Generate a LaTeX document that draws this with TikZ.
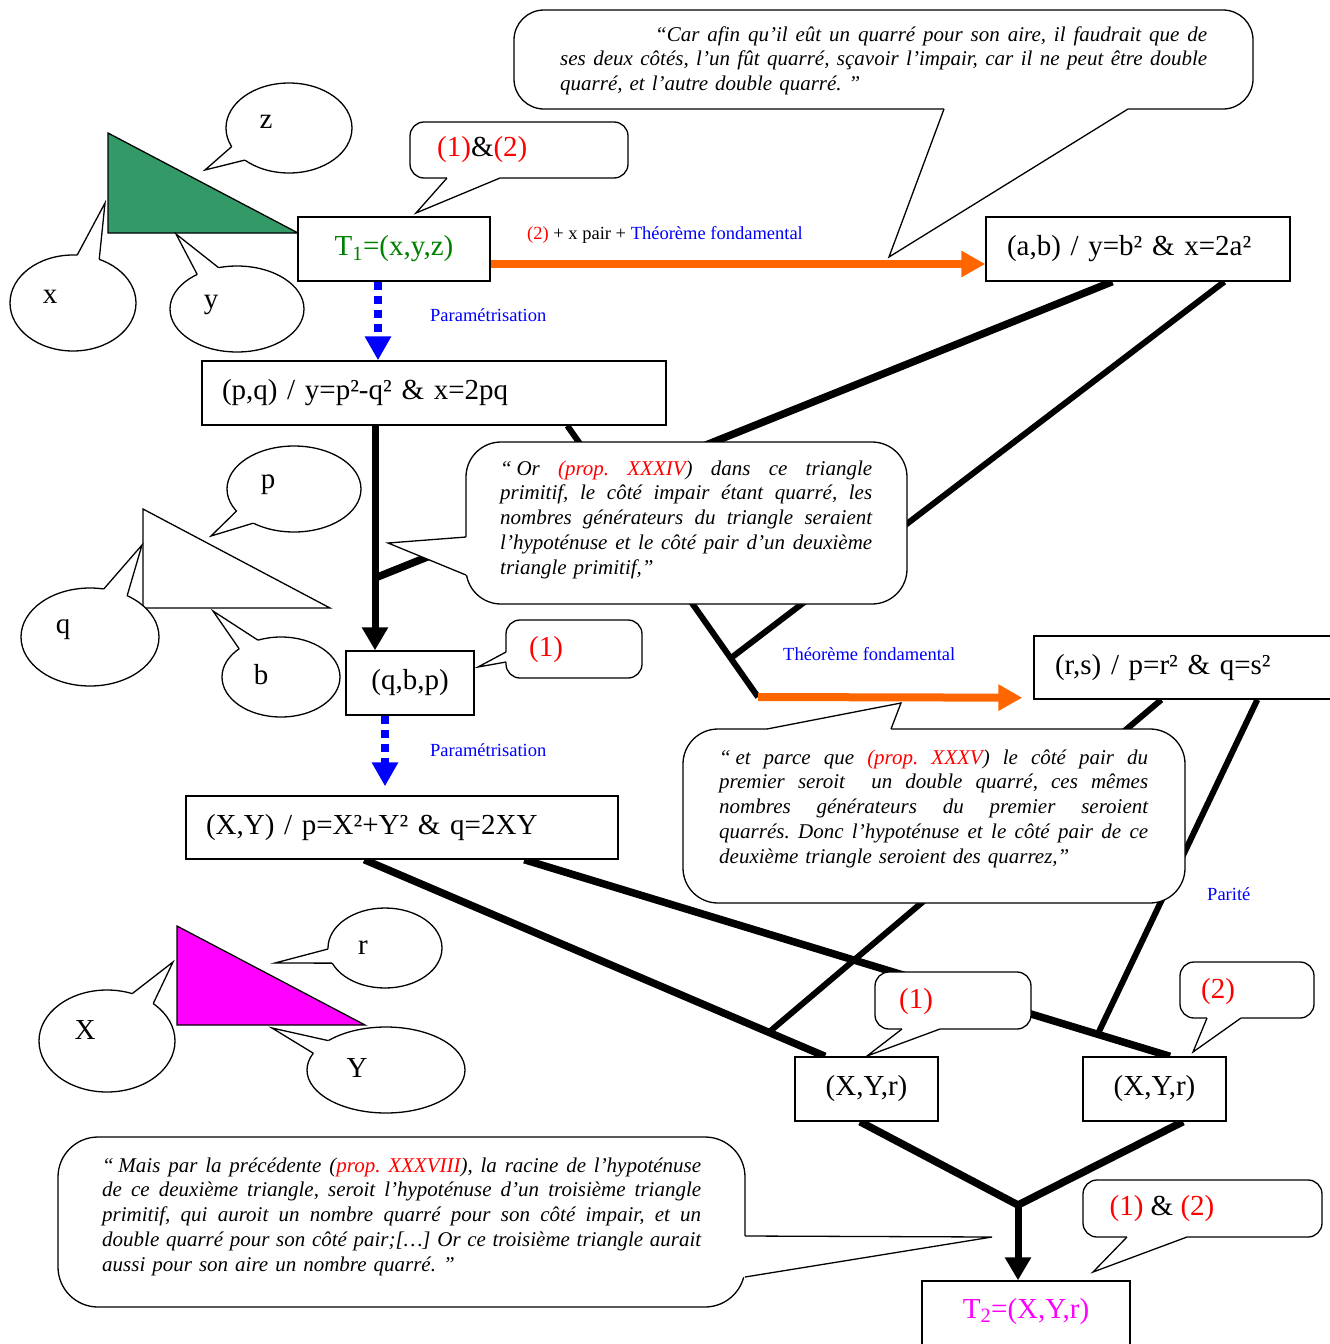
\documentclass[tikz,border=0pt]{standalone}
\usepackage{fontspec}
\setmainfont{Liberation Serif}
\usetikzlibrary{arrows.meta,shapes.geometric,calc}
\definecolor{tgreen}{RGB}{0,128,0}
\definecolor{trigreen}{RGB}{51,153,102}
\definecolor{orng}{RGB}{255,102,0}
\definecolor{mag}{RGB}{255,0,255}
\definecolor{rd}{RGB}{255,0,0}
\definecolor{bl}{RGB}{0,0,255}
\pgfdeclarelayer{bg}
\pgfsetlayers{bg,main}
\newcommand\fbig{\fontsize{29}{33}\selectfont}
\newcommand\flab{\fontsize{18.5}{22}\selectfont\frenchspacing}
\newcommand\fqt{\fontsize{21}{24.75}\selectfont\itshape\frenchspacing}
\newcommand\jline[2]{\leavevmode\hbox to #1{\spaceskip=0.25em plus 1fil minus 0.05em\relax #2}}
\newcommand\oq{“\hspace{0.22em}}
\newcommand\rptr[4]{\fill[white] ($#1+#4$) -- #1 -- #2 -- #3 -- ($#3+#4$) -- cycle;
  \draw[cline] #1 -- #2 -- #3;}
\newcommand\eptr[4]{\fill[white] (#1.center) -- (#1.#2) -- #4 -- (#1.#3) -- cycle;
  \draw[cline] (#1.#2) -- #4 -- (#1.#3);}
\begin{document}
\begin{tikzpicture}[x=1pt,y=-1pt,
  box/.style={draw,line width=1.4pt,fill=white,inner sep=0pt,minimum height=64pt,font=\fbig},
  lbox/.style={box,align=left,inner xsep=20pt,text width=#1},
  cbox/.style={box,minimum width=#1},
  bub/.style={draw,line width=1.3pt,fill=white,rounded corners=#1,inner sep=0pt,outer sep=0pt},
  ell/.style={draw,line width=1.3pt,fill=white,ellipse,inner sep=0pt,outer sep=0pt},
  cline/.style={line width=1.3pt,line join=miter},
  thk/.style={line width=7.5pt},
  thn/.style={line width=6pt},
  blk/.style={line width=7pt,-{Triangle[length=23pt,width=25pt]}},
  oarr/.style={line width=8pt,orng,-{Triangle[length=24pt,width=25pt]}},
  barr/.style={line width=8pt,bl,dash pattern=on 8pt off 6pt,-{Triangle[length=24pt,width=25pt]}},
  qt/.style={font=\fqt,inner sep=0pt,text width=#1,align=left,anchor=base west},
  lbl/.style={font=\flab,inner sep=0pt,anchor=west},
  elab/.style={font=\fbig,inner sep=0pt},
]
\useasboundingbox (0,0) rectangle (1330,1344);

% ---------- triangles ----------
\fill[trigreen,draw=black,line width=1.3pt] (108,133) -- (108,233) -- (298,233) -- cycle;
\fill[white,draw=black,line width=1.3pt] (143,509) -- (143,608) -- (330,608) -- cycle;
\fill[mag,draw=black,line width=1.3pt] (177,926) -- (177,1025) -- (365,1025) -- cycle;

% ---------- ellipse callouts ----------
\node[ell,minimum width=126pt,minimum height=90pt] (ez) at (289,128) {};
\eptr{ez}{198}{216}{(205,170)}
\node[ell,minimum width=126pt,minimum height=96pt] (ex) at (73,303) {};
\eptr{ex}{85}{59}{(105,203)}
\node[ell,minimum width=134pt,minimum height=86pt] (ey) at (237,309) {};
\eptr{ey}{139}{114}{(176,234)}
\node[ell,minimum width=134pt,minimum height=86pt] (ep) at (294,489) {};
\eptr{ep}{201}{220}{(211,536)}
\node[ell,minimum width=138pt,minimum height=98pt] (eq) at (90,637) {};
\eptr{eq}{74}{48}{(142,545)}
\node[ell,minimum width=118pt,minimum height=80pt] (eb) at (281,677) {};
\eptr{eb}{146}{122}{(213,611)}
\node[ell,minimum width=114pt,minimum height=80pt] (er) at (385,948) {};
\eptr{er}{181}{196}{(275,963)}
\node[ell,minimum width=136pt,minimum height=102pt] (eX) at (107,1041) {};
\eptr{eX}{62}{39}{(173,962)}
\node[ell,minimum width=158pt,minimum height=86pt] (eY) at (386,1070) {};
\eptr{eY}{153}{167}{(272,1028)}

\node[elab] (tz) at (266,122) {z};
\node[elab] (tx) at (50,297) {x};
\node[elab] (ty) at (211,305) {y};
\node[elab] (tp) at (268,485) {p};
\node[elab] (tq) at (63,630) {q};
\node[elab] (tb) at (261,675) {b};
\node[elab] (tr) at (363,948) {r};
\node[elab] (tX) at (85,1030) {X};
\node[elab] (tY) at (357,1068) {Y};

% ---------- rounded callouts ----------
\node[bub=30pt,minimum width=739pt,minimum height=99pt] (topq) at (883.5,59.5) {};
\rptr{(944,109)}{(889,257)}{(1128,109)}{(0,-4)}
\node[bub=14pt,minimum width=218pt,minimum height=56pt] (b12) at (519,150) {};
\rptr{(447,178)}{(416,213)}{(500,178)}{(0,-4)}
\node[bub=35pt,minimum width=441pt,minimum height=162pt] (midq) at (686.5,523) {};
\rptr{(466,537)}{(388,543)}{(466,575)}{(4,0)}
\node[bub=14pt,minimum width=136pt,minimum height=58pt] (b1a) at (574,649) {};
\rptr{(506,652)}{(478,667)}{(506,662)}{(4,0)}
\node[bub=35pt,minimum width=502pt,minimum height=174pt] (etq) at (934,816) {};
\rptr{(767,729)}{(901,703)}{(891,729)}{(0,4)}
\node[bub=14pt,minimum width=156pt,minimum height=57pt] (b1b) at (953,1000.5) {};
\rptr{(902,1029)}{(867,1056)}{(940,1029)}{(0,-4)}
\node[bub=14pt,minimum width=134pt,minimum height=56pt] (b2) at (1247,990) {};
\rptr{(1207,1018)}{(1193,1052)}{(1241,1018)}{(0,-4)}
\node[bub=14pt,minimum width=239pt,minimum height=57pt] (b12b) at (1202.5,1208.5) {};
\rptr{(1127,1237)}{(1093,1272)}{(1187,1237)}{(0,-4)}
\node[bub=40pt,minimum width=687pt,minimum height=170pt] (lastq) at (401.5,1222) {};
\rptr{(745,1236)}{(992,1237)}{(745,1277)}{(-4,0)}

% ---------- boxes ----------
\node[cbox=192pt,text=tgreen] (t1) at (394,249) {T\textsubscript{1}=(x,y,z)};
\node[lbox=262pt,inner xsep=21pt] (ab) at (1138,249) {(a,b) / y=b² \& x=2a²};
\node[lbox=424pt] (pq) at (434,393) {(p,q) / y=p²-q² \& x=2pq};
\node[cbox=128pt] (qbp) at (410,683) {(q,b,p)};
\node[lbox=392pt,minimum height=63pt] (xy) at (402,827.5) {(X,Y) / p=X²+Y² \& q=2XY};
\node[lbox=264pt,inner xsep=21pt,minimum height=63pt] (rs) at (1187,667.5) {(r,s) / p=r² \& q=s²};
\node[cbox=143pt] (xyrL) at (866.5,1089) {(X,Y,r)};
\node[cbox=143pt] (xyrR) at (1154.5,1089) {(X,Y,r)};
\node[cbox=208pt,minimum height=70pt,text=mag,text height=20pt,text depth=16pt] (t2) at (1026,1316) {T\textsubscript{2}=(X,Y,r)};

% ---------- connector coordinates ----------
\coordinate (jA) at (375,578);
\coordinate (ab1) at ([xshift=127pt]ab.south west);
\coordinate (ab2) at ([xshift=239pt]ab.south west);
\coordinate (pq1) at ([xshift=366pt]pq.south west);
\coordinate (pqv) at ([xshift=-59pt]pq.south);
\coordinate (jC) at (758,697);
\coordinate (jB) at ($(pq1)!0.857!(jC)$);
\coordinate (xy1) at ([xshift=179pt]xy.south west);
\coordinate (xy2) at ([xshift=339pt]xy.south west);
\coordinate (rs1) at ([xshift=128pt]rs.south west);
\coordinate (rs2) at ([xshift=224pt]rs.south west);
\coordinate (xyL1) at ([xshift=-41.5pt]xyrL.north);
\coordinate (xyR1) at ([xshift=15.5pt]xyrR.north);
\coordinate (jD) at ($(xy1)!0.878!(xyL1)$);
\coordinate (jDD) at ($(xy2)!0.888!(xyR1)$);
\coordinate (jE) at (1018,1205);

\begin{pgfonlayer}{bg}
\draw[thk] (ab1) -- (jA);
\draw[thn] (ab2) -- (jB);
\draw[thn] (pq1) -- (jC);
\draw[blk] (pqv) -- (pqv |- qbp.north);
\draw[thk] (xy1) -- (xyL1);
\draw[thk] (xy2) -- (xyR1);
\draw[thn] (rs1) -- (jD);
\draw[thn] (rs2) -- (jDD);
\draw[thk,line join=miter] ([xshift=-6.5pt]xyrL.south) -- (jE) -- ([xshift=28.5pt]xyrR.south);
\draw[blk] (jE) -- (jE |- t2.north);
\draw[oarr] ([yshift=-15pt]t1.east) -- ([yshift=-15pt]ab.west);
\draw[oarr] (jC) -- ([xshift=-11pt,yshift=2pt]rs.south west);
\draw[barr] ([xshift=-16pt]t1.south) -- ([xshift=-16pt]t1.south |- pq.north);
\draw[barr,shorten >=9pt] ([xshift=-25pt]qbp.south) -- ([xshift=-25pt]qbp.south |- xy.north);
\end{pgfonlayer}

% ---------- labels ----------
\node[lbl] (l1) at (527,235) {\textcolor{rd}{(2)} + x pair + \textcolor{bl}{Théorème fondamental}};
\node[lbl,text=bl] (l2) at (430,315) {Paramétrisation};
\node[lbl,text=bl] (l3) at (430,750) {Paramétrisation};
\node[lbl,text=bl] (l4) at (783,654) {Théorème fondamental};
\node[lbl,text=bl] (l5) at (1207,894) {Parité};

\node[elab,anchor=west] (tb12) at (437,150) {\textcolor{rd}{(1)}\&\textcolor{rd}{(2)}};
\node[elab] (tb1a) at (546,650) {\textcolor{rd}{(1)}};
\node[elab] (tb1b) at (916,1002) {\textcolor{rd}{(1)}};
\node[elab] (tb2) at (1218,992) {\textcolor{rd}{(2)}};
\node[elab] (tb12b) at (1162,1209) {\textcolor{rd}{(1)} \& \textcolor{rd}{(2)}};

% ---------- quotes ----------
\node[qt=647pt] (qtop) at (560,41) {\leavevmode\hspace*{95pt}\jline{552pt}{“Car afin qu'il eût un quarré pour son aire, il faudrait que de}\\
\jline{647pt}{ses deux côtés, l'un fût quarré, sçavoir l'impair, car il ne peut être double}\\
quarré, et l'autre double quarré. ”};

\node[qt=372pt] (qmid) at (500,475) {\jline{372pt}{\oq Or \textcolor{rd}{(prop. XXXIV}) dans ce triangle}\\
\jline{372pt}{primitif, le côté impair étant quarré, les}\\
\jline{372pt}{nombres générateurs du triangle seraient}\\
\jline{372pt}{l'hypoténuse et le côté pair d'un deuxième}\\
triangle primitif,”};

\node[qt=429pt] (qet) at (719,764) {\jline{429pt}{\oq et parce que \textcolor{rd}{(prop. XXXV}) le côté pair du}\\
\jline{429pt}{premier seroit \ un double quarré, ces mêmes}\\
\jline{429pt}{nombres générateurs du premier seroient}\\
\jline{429pt}{quarrés. Donc l’hypoténuse et le côté pair de ce}\\
deuxième triangle seroient des quarrez,”};

\node[qt=599pt] (qlast) at (102,1172) {\jline{599pt}{\oq Mais par la précédente (\textcolor{rd}{prop. XXXVIII}), la racine de l'hypoténuse}\\
\jline{599pt}{de ce deuxième triangle, seroit l'hypoténuse d'un troisième triangle}\\
\jline{599pt}{primitif, qui auroit un nombre quarré pour son côté impair, et un}\\
\jline{599pt}{double quarré pour son côté pair;[…] Or ce troisième triangle aurait}\\
aussi pour son aire un nombre quarré. ”};
\end{tikzpicture}
\end{document}
